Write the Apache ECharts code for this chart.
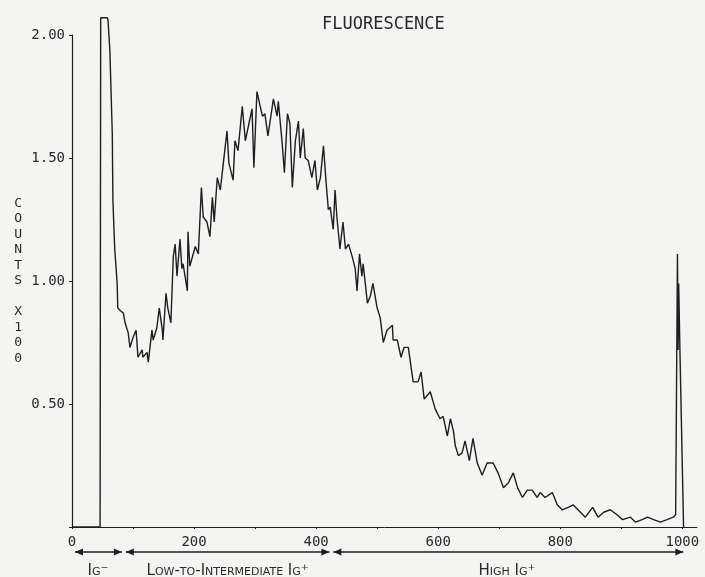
<!DOCTYPE html>
<html><head><meta charset="utf-8">
<script src="https://cdn.jsdelivr.net/npm/echarts@6/dist/echarts.min.js"></script>
<style>html,body{margin:0;padding:0;background:#f4f4f2}#c{width:705px;height:577px}</style>
</head><body><div id="c"></div>
<script>
const channels = [0,46,47,58,59,62,66,67,70,74,75,79,84,87,92,95,100,105,107,108,115,116,123,125,131,133,139,143,148,149,154,157,162,166,169,172,177,180,182,189,190,193,202,207,212,215,221,226,230,233,238,243,248,254,257,264,267,272,279,284,289,295,298,303,312,316,321,330,336,338,344,348,353,357,361,366,371,374,379,382,387,393,398,402,407,412,416,420,423,428,431,434,439,444,448,453,459,464,467,471,475,477,484,489,493,500,505,510,516,525,526,533,539,544,551,559,567,572,577,587,595,603,608,615,620,625,628,633,639,644,651,657,664,672,680,690,698,707,715,723,730,738,746,754,762,767,775,787,795,803,813,821,833,841,853,862,871,882,893,902,915,923,934,943,953,964,975,985,989,992,993,994,996,1002];
const counts = [0,0,2.07,2.07,2.06,1.94,1.60,1.33,1.13,0.99,0.89,0.88,0.87,0.83,0.79,0.73,0.77,0.80,0.73,0.69,0.72,0.69,0.71,0.67,0.80,0.76,0.81,0.89,0.80,0.76,0.95,0.89,0.83,1.10,1.15,1.02,1.17,1.05,1.07,0.96,1.20,1.06,1.14,1.11,1.38,1.26,1.24,1.18,1.34,1.24,1.42,1.37,1.48,1.61,1.48,1.41,1.57,1.53,1.71,1.57,1.63,1.70,1.46,1.77,1.67,1.68,1.59,1.74,1.67,1.73,1.57,1.44,1.68,1.64,1.38,1.57,1.65,1.50,1.62,1.50,1.49,1.42,1.49,1.37,1.42,1.55,1.41,1.29,1.30,1.21,1.37,1.26,1.13,1.24,1.13,1.15,1.10,1.05,0.96,1.11,1.02,1.07,0.91,0.94,0.99,0.89,0.85,0.75,0.80,0.82,0.76,0.76,0.69,0.73,0.73,0.59,0.59,0.63,0.52,0.55,0.48,0.44,0.45,0.37,0.44,0.39,0.33,0.29,0.30,0.35,0.27,0.36,0.26,0.21,0.26,0.26,0.22,0.16,0.18,0.22,0.16,0.12,0.15,0.15,0.12,0.14,0.12,0.14,0.09,0.07,0.08,0.09,0.06,0.04,0.08,0.04,0.06,0.07,0.05,0.03,0.04,0.02,0.03,0.04,0.03,0.02,0.03,0.04,0.05,1.11,0.72,0.99,0.72,0];
const xTickLabels = ['0','200','400','600','800','1000'];
const yTickLabels = ['0.50','1.00','1.50','2.00'];
const regionBounds = [0, 85, 425, 1000];
const regionNames = ['Ig\u207B', 'Low-to-Intermediate Ig\u207A', 'High Ig\u207A'];
const titleText = 'FLUORESCENCE';
const yAxisTitle = 'COUNTS X100';

const FONT = '"DejaVu Sans Mono", monospace';
const INK = '#1e1e1e';
const TXT = '#2a2a2a';
const chart = echarts.init(document.getElementById('c'), null, {renderer: 'canvas'});
const stacked = yAxisTitle.split(' ').map(w => w.split('').join('\n')).join('\n\n');
chart.setOption({
  animation: false,
  backgroundColor: '#f4f4f2',
  title: {text: titleText, left: 317, top: 11,
    textStyle: {fontFamily: FONT, fontSize: 17, fontWeight: 'normal', color: TXT}},
  grid: {left: 72, right: 8, top: 35, bottom: 50, containLabel: false},
  xAxis: {type: 'value', min: 0, max: 1024, interval: 100,
    axisLine: {lineStyle: {color: INK, width: 1}},
    axisTick: {show: true, length: 2, lineStyle: {color: INK}},
    splitLine: {show: false},
    axisLabel: {showMaxLabel: false, margin: 8, color: TXT, fontFamily: FONT, fontSize: 14,
      formatter: v => xTickLabels.indexOf(String(v)) >= 0 && v % 200 === 0 ? String(v) : ''}},
  yAxis: {type: 'value', min: 0, max: 2, interval: 0.5,
    name: stacked, nameLocation: 'middle', nameRotate: 0, nameGap: 50,
    nameTextStyle: {fontFamily: FONT, fontSize: 13, lineHeight: 15.5, color: TXT},
    axisLine: {show: true, lineStyle: {color: INK, width: 1.2}},
    axisTick: {show: true, length: 3, lineStyle: {color: INK}},
    splitLine: {show: false},
    axisLabel: {margin: 7, color: TXT, fontFamily: FONT, fontSize: 14,
      formatter: v => { const s = v.toFixed(2); return yTickLabels.indexOf(s) >= 0 ? s : ''; }}},
  series: [{type: 'line', data: channels.map((c, i) => [c, counts[i]]),
    showSymbol: false, symbol: 'none', clip: false, smooth: false,
    lineStyle: {color: INK, width: 1.4}}]
});

function drawRegions() {
  const y = chart.convertToPixel({gridIndex: 0}, [0, 0])[1] + 25;
  const els = [];
  for (let i = 0; i < regionNames.length; i++) {
    let a = chart.convertToPixel({gridIndex: 0}, [regionBounds[i], 0])[0];
    let b = chart.convertToPixel({gridIndex: 0}, [regionBounds[i + 1], 0])[0];
    a += (i === 0 ? 3 : 2); b -= (i === regionNames.length - 1 ? -1 : 2);
    els.push({type: 'line', shape: {x1: a, y1: y, x2: b, y2: y}, style: {stroke: INK, lineWidth: 1.6}});
    els.push({type: 'polygon', shape: {points: [[a, y], [a + 8, y - 3.5], [a + 8, y + 3.5]]}, style: {fill: INK}});
    els.push({type: 'polygon', shape: {points: [[b, y], [b - 8, y - 3.5], [b - 8, y + 3.5]]}, style: {fill: INK}});
    const mid = (regionBounds[i] + regionBounds[i + 1]) / 2;
    const mx = chart.convertToPixel({gridIndex: 0}, [mid, 0])[0];
    els.push({type: 'text', x: mx, y: y + 19,
      style: {text: regionNames[i], font: 'small-caps normal 15px "DejaVu Sans"', fill: TXT,
        align: 'center', verticalAlign: 'middle'}});
  }
  chart.setOption({graphic: els});
}
drawRegions();
</script></body></html>
